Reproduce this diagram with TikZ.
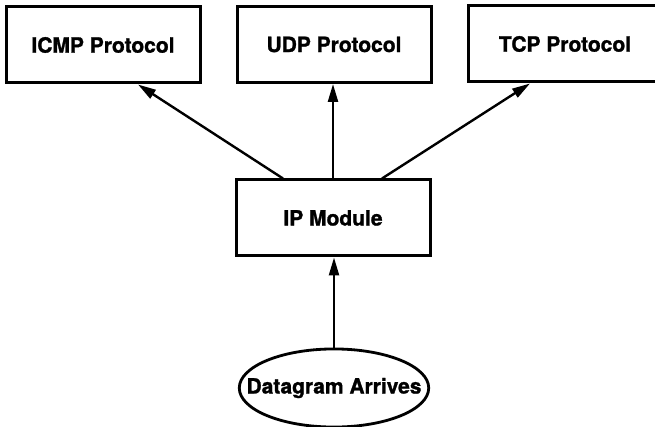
\documentclass[tikz,border=0pt]{standalone}
\usepackage{fontspec}
\setmainfont[BoldFeatures={FakeBold=1.2}]{TeX Gyre Heros}
\usetikzlibrary{arrows.meta,calc,shapes.geometric}
\begin{document}
\begin{tikzpicture}[x=1pt,y=-1pt,
  lbl/.style={font=\fontsize{21}{25}\selectfont\bfseries},
  box/.style={lbl, draw, line width=3pt, rectangle, minimum width=194pt, minimum height=76pt, inner sep=0pt},
  oval/.style={lbl, draw, line width=2.8pt, ellipse, inner xsep=-20.5pt, inner ysep=17.5pt},
  conn/.style={line width=2.4pt, -{Triangle[length=18pt,width=10pt]}}]
\useasboundingbox (0,0) rectangle (655,427);
\node[box] (icmp) at (103,45) {ICMP Protocol};
\node[box] (udp) at (334,44.5) {UDP Protocol};
\node[box] (tcp) at (565,44) {TCP Protocol};
\node[box] (ip) at (333,218) {IP Module};
\node[oval] (dg) at (334,388) {Datagram Arrives};
\draw[conn] ($(ip.north)+(-50,0)$) -- ($(icmp.south)+(35,0)$);
\draw[conn] (ip.north) -- (ip.north |- udp.south);
\draw[conn] ($(ip.north)+(49,0)$) -- ($(tcp.south)+(-35,0)$);
\draw[conn] (dg.north) -- (dg.north |- ip.south);
\end{tikzpicture}
\end{document}
